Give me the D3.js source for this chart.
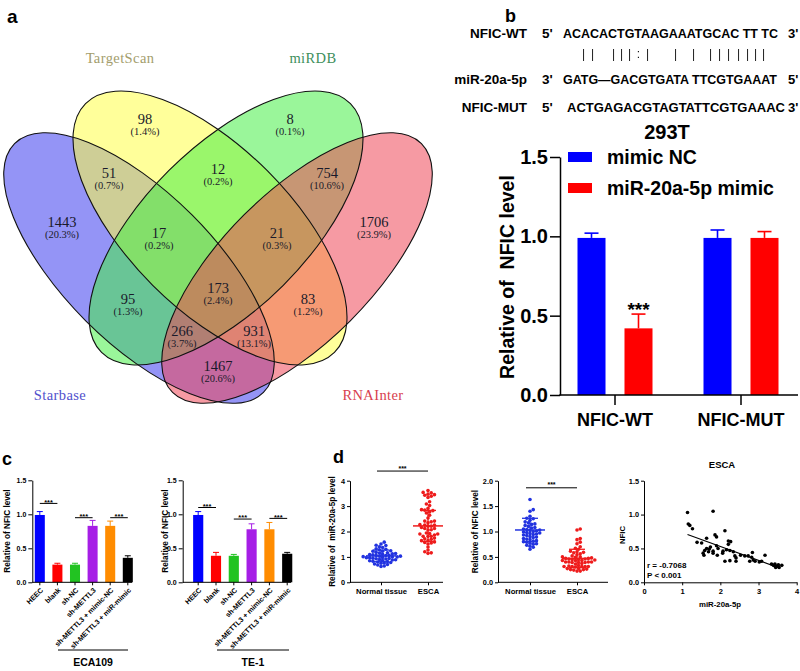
<!DOCTYPE html>
<html><head><meta charset="utf-8">
<script src="https://cdn.jsdelivr.net/npm/d3@7/dist/d3.min.js"></script>
<style>body{margin:0;background:#fff}svg{display:block}</style>
</head><body>
<svg id="fig" width="800" height="671"></svg>
<script>
// ---------------- DATA ----------------
// Panel a (Venn)
const vennSets = ["Starbase", "TargetScan", "miRDB", "RNAInter"];
const vennRegions = ["A", "B", "C", "D", "AB", "BC", "CD", "AC", "BD", "AD", "ABC", "BCD", "ACD", "ABD", "ABCD"];
const vennCounts = [1443, 98, 8, 1706, 51, 12, 754, 95, 83, 1467, 17, 21, 266, 931, 173];
const vennPct = ["20.3%", "1.4%", "0.1%", "23.9%", "0.7%", "0.2%", "10.6%", "1.3%", "1.2%", "20.6%", "0.2%", "0.3%", "3.7%", "13.1%", "2.4%"];

// Panel b
const bCats = ["NFIC-WT", "NFIC-MUT"];
const bSeries = ["mimic NC", "miR-20a-5p mimic"];
const bNC = [0.99, 0.99];
const bNCerr = [0.03, 0.05];
const bMimic = [0.42, 0.99];
const bMimicErr = [0.09, 0.04];
const bTicks = [0, 0.5, 1.0, 1.5];
const seqLabels = ["NFIC-WT", "miR-20a-5p", "NFIC-MUT"];
const seqEnds = [["5'", "3'"], ["3'", "5'"], ["5'", "3'"]];
const seqs = ["ACACACTGTAAGAAATGCAC TT TC", "GATG\u2014GACGTGATA TTCGTGAAAT", "ACTGAGACGTAGTATTCGTGAAAC"];
const pairChars = ["|", "|", "|", "|", "|", ":", "|", "|", "|", "|", "|", "|", "|", "|", "|", "|"];

// Panel c
const cCats = ["HEEC", "blank", "sh-NC", "sh-METTL3", "sh-METTL3 + mimic-NC", "sh-METTL3 + miR-mimic"];
const ecaVals = [0.99, 0.26, 0.26, 0.83, 0.83, 0.36];
const ecaErr = [0.05, 0.02, 0.02, 0.08, 0.07, 0.03];
const teVals = [0.99, 0.39, 0.39, 0.78, 0.78, 0.42];
const teErr = [0.05, 0.05, 0.02, 0.08, 0.10, 0.02];
const cSigPairs = [[0, 1], [2, 3], [4, 5]];
const ecaSigLevel = [1.16, 0.95, 0.95];
const teSigLevel = [1.10, 0.93, 0.94];
const cTicks = [0, 0.5, 1.0, 1.5];

// Panel d
const dGroups = ["Normal tissue", "ESCA"];
const normalMiR = [1.58, 1.51, 1.46, 1.45, 1.40, 1.37, 1.32, 1.30, 1.28, 1.24, 1.22, 1.22, 1.18, 1.16, 1.15, 1.13, 1.12, 1.10, 1.09, 1.08, 1.06, 1.06, 1.05, 1.03, 1.03, 1.01, 1.00, 1.00, 0.98, 0.97, 0.97, 0.95, 0.94, 0.93, 0.92, 0.90, 0.89, 0.88, 0.86, 0.85, 0.83, 0.82, 0.80, 0.78, 0.76, 0.75, 0.72, 0.70, 0.68, 0.64, 0.62];
const normalNFIC = [1.63, 1.43, 1.40, 1.30, 1.26, 1.25, 1.22, 1.19, 1.17, 1.15, 1.14, 1.12, 1.10, 1.08, 1.07, 1.05, 1.04, 1.03, 1.02, 1.01, 1.00, 0.99, 0.98, 0.97, 0.96, 0.95, 0.94, 0.93, 0.92, 0.90, 0.89, 0.88, 0.86, 0.85, 0.84, 0.82, 0.81, 0.80, 0.79, 0.77, 0.76, 0.75, 0.73, 0.71, 0.69, 0.65];
const escaMiR = [1.14, 1.16, 1.20, 1.27, 1.81, 2.12, 1.86, 1.90, 1.64, 1.39, 1.51, 2.21, 2.27, 2.21, 1.64, 1.71, 1.74, 1.59, 1.69, 1.81, 1.90, 1.94, 2.07, 2.06, 1.55, 1.57, 1.81, 1.92, 2.16, 2.25, 2.12, 2.25, 2.34, 2.38, 2.41, 2.41, 2.53, 2.64, 2.73, 2.82, 2.86, 2.84, 2.77, 2.91, 3.02, 3.08, 3.17, 3.34, 3.39, 3.43, 3.47, 3.52, 3.54, 3.45, 3.61];
const escaNFIC = [1.03, 0.86, 0.84, 0.79, 1.05, 0.76, 0.70, 0.67, 0.65, 0.59, 0.58, 0.61, 0.60, 0.56, 0.50, 0.49, 0.52, 0.47, 0.45, 0.46, 0.54, 0.50, 0.46, 0.43, 0.43, 0.40, 0.43, 0.40, 0.48, 0.47, 0.31, 0.32, 0.45, 0.39, 0.36, 0.31, 0.40, 0.39, 0.39, 0.37, 0.33, 0.44, 0.31, 0.31, 0.30, 0.31, 0.40, 0.27, 0.25, 0.27, 0.24, 0.26, 0.22, 0.22, 0.25];
const miRMean = [1.04, 2.22];
const miRSD = [0.23, 0.61];
const nficMean = [1.03, 0.47];
const nficSD = [0.23, 0.18];
const corrText = ["r = -0.7068", "P < 0.001"];

// ---------------- LAYOUT / STYLE ----------------
const SANS = "'Liberation Sans', Arial, Helvetica, sans-serif";
const SERIF = "'Liberation Serif', 'Times New Roman', serif";
const svg = d3.select("#fig");
svg.append("rect").attr("width", 800).attr("height", 671).attr("fill", "#fff");

function txt(g, x, y, s, o = {}) {
  return g.append("text").attr("x", x).attr("y", y).text(s)
    .attr("font-family", o.ff || SANS).attr("font-size", o.fs || 10)
    .attr("font-weight", o.fw || "bold").attr("fill", o.fill || "#000")
    .attr("text-anchor", o.anchor || "start");
}
function styleAxis(sel, fs, sw) {
  sel.selectAll("text").attr("font-family", SANS).attr("font-size", fs).attr("font-weight", "bold").attr("fill", "#000");
  sel.selectAll("path,line").attr("stroke", "#000").attr("stroke-width", sw || 1);
}

// ================= Panel a: Venn =================
const va = svg.append("g");
txt(va, 7, 23, "a", { fs: 19 });
const ell = [
  { cx: 139, cy: 268, rx: 176, ry: 75, rot: 45, fill: "#3a3aee" },
  { cx: 210, cy: 228, rx: 176, ry: 81, rot: 45, fill: "#ffff44" },
  { cx: 226, cy: 228, rx: 176, ry: 81, rot: -45, fill: "#44ee44" },
  { cx: 297, cy: 268, rx: 176, ry: 75, rot: -45, fill: "#ee4455" }
];
va.selectAll("ellipse.f").data(ell).join("ellipse").attr("class", "f")
  .attr("cx", 0).attr("cy", 0).attr("rx", d => d.rx).attr("ry", d => d.ry)
  .attr("transform", d => `translate(${d.cx},${d.cy}) rotate(${d.rot})`)
  .attr("fill", d => d.fill).attr("fill-opacity", 0.54);
va.selectAll("ellipse.s").data(ell).join("ellipse").attr("class", "s")
  .attr("cx", 0).attr("cy", 0).attr("rx", d => d.rx).attr("ry", d => d.ry)
  .attr("transform", d => `translate(${d.cx},${d.cy}) rotate(${d.rot})`)
  .attr("fill", "none").attr("stroke", "#111").attr("stroke-width", 1.1);
const vennLabelPos = {
  A: [62, 222], B: [145, 119], C: [290, 119], D: [374, 222], AB: [109, 173], BC: [218, 169], CD: [327, 173],
  AC: [128, 299], BD: [308, 299], AD: [218, 366], ABC: [159, 233], BCD: [277, 233], ACD: [182, 331], ABD: [254, 331], ABCD: [218, 288]
};
vennRegions.forEach((r, i) => {
  const [x, y] = vennLabelPos[r];
  txt(va, x, y + 5, vennCounts[i], { ff: SERIF, fs: 14.5, fw: "normal", fill: "#1a1a2a", anchor: "middle" });
  txt(va, x, y + 16, "(" + vennPct[i] + ")", { ff: SERIF, fs: 10.5, fw: "normal", fill: "#1a1a2a", anchor: "middle" });
});
const setLabelPos = [[60, 400, "#5050cc"], [120, 63, "#a39d6c"], [313, 63, "#3e8f5c"], [373, 400, "#d8404e"]];
vennSets.forEach((s, i) => {
  const [x, y, c] = setLabelPos[i];
  txt(va, x, y, s, { ff: SERIF, fs: 14.5, fw: "normal", fill: c, anchor: "middle" }).attr("letter-spacing", 0.4);
});

// ================= Panel b =================
const vb = svg.append("g");
txt(vb, 505, 22, "b", { fs: 18 });
const seqRowsY = [38, 84, 112];
const seqX0 = [563, 563, 567];
const seqW = [215, 214, 218];
seqLabels.forEach((l, i) => {
  txt(vb, 527, seqRowsY[i], l, { fs: 13.5, anchor: "end" });
  txt(vb, 542, seqRowsY[i], seqEnds[i][0], { fs: 13.5 });
  txt(vb, seqX0[i], seqRowsY[i], seqs[i], { fs: 12.6 }).attr("textLength", seqW[i]).attr("lengthAdjust", "spacingAndGlyphs");
  txt(vb, 788, seqRowsY[i], seqEnds[i][1], { fs: 13 });
});
const pairX = [583, 592, 613, 621, 629, 638, 647, 675, 693, 710, 719, 728, 738, 747, 755, 763];
const pairG = vb.append("g").style("opacity", 0.99).style("will-change", "transform");
pairChars.forEach((c, i) => txt(pairG, Math.round(pairX[i]) + 0.5, 57.5, c, { fs: 12, fw: "normal", fill: "#111", anchor: "middle" }));

const xb = d3.scaleBand().domain(bCats).range([552, 804]).padding(0);
const xbSub = d3.scaleBand().domain(bSeries).range([-37.5, 37.5]).paddingInner(0.404).paddingOuter(0);
const yb = d3.scaleLinear().domain([0, 1.5]).range([395, 157]);
const bColors = ["#0000ff", "#ff0000"];
const bData = bCats.map((c, i) => [
  { cat: c, s: bSeries[0], v: bNC[i], e: bNCerr[i], col: bColors[0] },
  { cat: c, s: bSeries[1], v: bMimic[i], e: bMimicErr[i], col: bColors[1] }
]).flat();
const bx = d => xb(d.cat) + xb.bandwidth() / 2 + xbSub(d.s);
vb.selectAll("line.be").data(bData).join("line").attr("class", "be")
  .attr("x1", d => bx(d) + xbSub.bandwidth() / 2).attr("x2", d => bx(d) + xbSub.bandwidth() / 2)
  .attr("y1", d => yb(d.v)).attr("y2", d => yb(d.v + d.e)).attr("stroke", d => d.col).attr("stroke-width", 1.6);
vb.selectAll("line.bc").data(bData).join("line").attr("class", "bc")
  .attr("x1", d => bx(d) + xbSub.bandwidth() / 2 - 7).attr("x2", d => bx(d) + xbSub.bandwidth() / 2 + 7)
  .attr("y1", d => yb(d.v + d.e)).attr("y2", d => yb(d.v + d.e)).attr("stroke", d => d.col).attr("stroke-width", 1.6);
vb.selectAll("rect.bar").data(bData).join("rect").attr("class", "bar")
  .attr("x", bx).attr("width", xbSub.bandwidth())
  .attr("y", d => yb(d.v)).attr("height", d => yb(0) - yb(d.v)).attr("fill", d => d.col);
const ybAxis = vb.append("g").attr("transform", "translate(560,0)")
  .call(d3.axisLeft(yb).tickValues(bTicks).tickSize(10).tickSizeOuter(0).tickPadding(2).tickFormat(d3.format(".1f")));
styleAxis(ybAxis, 20, 1.5);
const xbAxis = vb.append("g").attr("transform", "translate(0,395)")
  .call(d3.axisBottom(xb).tickSize(10).tickSizeOuter(0).tickPadding(8));
xbAxis.select(".domain").remove();
styleAxis(xbAxis, 18, 1.5);
vb.append("line").attr("x1", 559.3).attr("x2", 798).attr("y1", 395).attr("y2", 395).attr("stroke", "#000").attr("stroke-width", 1.5);
txt(vb, 507, 277, "Relative of  NFIC level", { fs: 19.5, anchor: "middle" })
  .attr("transform", "rotate(-90,507,277)").attr("dy", "0.35em").style("white-space", "pre");
txt(vb, 667, 139, "293T", { fs: 20, anchor: "middle" });
const wtMimic = bData[1];
txt(vb, bx(wtMimic) + xbSub.bandwidth() / 2, yb(wtMimic.v + wtMimic.e) + 2, "***", { fs: 19, anchor: "middle" });
bSeries.forEach((s, i) => {
  vb.append("rect").attr("x", 568).attr("y", 152 + i * 31).attr("width", 24).attr("height", 10).attr("fill", bColors[i]);
  txt(vb, 607, 164 + i * 31, s, { fs: 19.5 });
});

// ================= Panel c =================
const vc = svg.append("g");
txt(vc, 2, 465, "c", { fs: 18 });
const cColors = ["#0000ff", "#ff0000", "#22c322", "#a61ee6", "#ff8c00", "#000000"];
const yc = d3.scaleLinear().domain([0, 1.5]).range([582.3, 480.3]);
function barPanel(o) {
  const g = vc.append("g");
  const x = d3.scaleBand().domain(cCats).range(o.xr).paddingInner(0.43).paddingOuter(0.215);
  const cx = c => x(c) + x.bandwidth() / 2;
  const data = cCats.map((c, i) => ({ c, v: o.vals[i], e: o.err[i], col: cColors[i] }));
  g.selectAll("line.e").data(data).join("line").attr("x1", d => cx(d.c)).attr("x2", d => cx(d.c))
    .attr("y1", d => yc(d.v)).attr("y2", d => yc(d.v + d.e)).attr("stroke", d => d.col).attr("stroke-width", 1);
  g.selectAll("line.cap").data(data).join("line").attr("x1", d => cx(d.c) - 3).attr("x2", d => cx(d.c) + 3)
    .attr("y1", d => yc(d.v + d.e)).attr("y2", d => yc(d.v + d.e)).attr("stroke", d => d.col).attr("stroke-width", 1);
  g.selectAll("rect").data(data).join("rect").attr("x", d => x(d.c)).attr("width", x.bandwidth())
    .attr("y", d => yc(d.v)).attr("height", d => yc(0) - yc(d.v)).attr("fill", d => d.col);
  const ya = g.append("g").attr("transform", `translate(${o.ax},0)`)
    .call(d3.axisLeft(yc).tickValues(cTicks).tickSize(4).tickSizeOuter(0).tickPadding(2).tickFormat(d3.format(".1f")));
  styleAxis(ya, 7, 1);
  const xa = g.append("g").attr("transform", "translate(0,582.3)")
    .call(d3.axisBottom(x).tickSize(3).tickSizeOuter(0).tickFormat(""));
  xa.select(".domain").remove();
  styleAxis(xa, 7, 1);
  g.append("line").attr("x1", o.ax).attr("x2", o.axEnd).attr("y1", 582.3).attr("y2", 582.3).attr("stroke", "#000");
  cCats.forEach(c => {
    txt(g, cx(c) + 2, 589, c, { fs: 7.1, anchor: "end" }).attr("dy", "0.35em")
      .attr("transform", `rotate(-45,${cx(c) + 2},589)`);
  });
  txt(g, o.titleX, 531, "Relative of NFIC level", { fs: 8.2, anchor: "middle" })
    .attr("transform", `rotate(-90,${o.titleX},531)`).attr("dy", "0.35em");
  cSigPairs.forEach((p, k) => {
    const x1 = cx(cCats[p[0]]), x2 = cx(cCats[p[1]]), yy = yc(o.sig[k]);
    g.append("line").attr("x1", x1).attr("x2", x2).attr("y1", yy).attr("y2", yy).attr("stroke", "#000").attr("stroke-width", 1);
    txt(g, (x1 + x2) / 2, yy + 1.2, "***", { fs: 7.5, anchor: "middle" });
  });
  g.append("line").attr("x1", o.grp[0]).attr("x2", o.grp[1]).attr("y1", 650).attr("y2", 650).attr("stroke", "#000");
  txt(g, (o.grp[0] + o.grp[1]) / 2, 665.5, o.name, { fs: 10.5, anchor: "middle" });
}
barPanel({ xr: [31, 136.6], ax: 32.3, axEnd: 132, vals: ecaVals, err: ecaErr, sig: ecaSigLevel, titleX: 7, grp: [58, 128], name: "ECA109" });
barPanel({ xr: [189.3, 296.1], ax: 182.7, axEnd: 291, vals: teVals, err: teErr, sig: teSigLevel, titleX: 165, grp: [217, 289], name: "TE-1" });

// ================= Panel d =================
const vd = svg.append("g");
txt(vd, 333, 463, "d", { fs: 18 });
const dColors = ["#2233e0", "#ee1c1c"];
function swarm(values, y, cx, r) {
  const placed = [];
  const res = new Array(values.length);
  const order = values.map((v, i) => i).sort((a, b) => values[a] - values[b]);
  for (const i of order) {
    const py = y(values[i]);
    let k = 0, px = cx;
    while (k < 60) {
      const off = (k === 0 ? 0 : (k % 2 ? 1 : -1) * Math.ceil(k / 2)) * r * 0.9;
      px = cx + off;
      if (placed.every(p => (p[0] - px) ** 2 + (p[1] - py) ** 2 >= (1.6 * r) ** 2)) break;
      k++;
    }
    placed.push([px, py]);
    res[i] = [px, py];
  }
  return res;
}
function dotPanel(o) {
  const g = vd.append("g");
  const y = d3.scaleLinear().domain([0, o.max]).range([582.3, 480.7]);
  const x = d3.scalePoint().domain(dGroups).range(o.xr);
  o.series.forEach((vals, gi) => {
    const pts = swarm(vals, y, x(dGroups[gi]), 1.8);
    g.selectAll(null).data(pts).join("circle").attr("cx", d => d[0]).attr("cy", d => d[1]).attr("r", 1.8)
      .attr("fill", dColors[gi]);
    const cx = x(dGroups[gi]), m = o.mean[gi], s = o.sd[gi];
    g.append("line").attr("x1", cx - 15).attr("x2", cx + 15).attr("y1", y(m)).attr("y2", y(m)).attr("stroke", dColors[gi]).attr("stroke-width", 1.5);
    [m - s, m + s].forEach(v => g.append("line").attr("x1", cx - 8).attr("x2", cx + 8).attr("y1", y(v)).attr("y2", y(v)).attr("stroke", dColors[gi]).attr("stroke-width", 1.3));
    g.append("line").attr("x1", cx).attr("x2", cx).attr("y1", y(m - s)).attr("y2", y(m + s)).attr("stroke", dColors[gi]).attr("stroke-width", 1.3);
  });
  const ya = g.append("g").attr("transform", `translate(${o.ax},0)`)
    .call(d3.axisLeft(y).tickValues(o.ticks).tickSize(3).tickSizeOuter(0).tickPadding(2).tickFormat(o.fmt));
  styleAxis(ya, 7.3, 1);
  const xa = g.append("g").attr("transform", "translate(0,582.3)")
    .call(d3.axisBottom(x).tickSize(3).tickSizeOuter(0).tickPadding(3));
  xa.select(".domain").remove();
  styleAxis(xa, 7.7, 1);
  g.append("line").attr("x1", o.ax).attr("x2", o.axEnd).attr("y1", 582.3).attr("y2", 582.3).attr("stroke", "#000");
  txt(g, o.titleX, 531.5, o.title, { fs: 8.2, anchor: "middle" })
    .attr("transform", `rotate(-90,${o.titleX},531.5)`).attr("dy", "0.35em").style("white-space", "pre");
  const sx1 = x(dGroups[0]) - 4, sx2 = x(dGroups[1]), sy = y(o.sig);
  g.append("line").attr("x1", sx1).attr("x2", sx2).attr("y1", sy).attr("y2", sy).attr("stroke", "#000");
  txt(g, (sx1 + sx2) / 2, sy - 0.5, "***", { fs: 7, anchor: "middle" });
}
dotPanel({ max: 4, xr: [381, 428], ax: 350, axEnd: 443, series: [normalMiR, escaMiR], mean: miRMean, sd: miRSD,
  ticks: [0, 1, 2, 3, 4], fmt: d3.format("d"), titleX: 332, title: "Relative of  miR-20a-5p level", sig: 4.38 });
dotPanel({ max: 2, xr: [530, 577], ax: 498, axEnd: 608, series: [normalNFIC, escaNFIC], mean: nficMean, sd: nficSD,
  ticks: [0, 0.5, 1, 1.5, 2], fmt: d3.format(".1f"), titleX: 475, title: "Relative of NFIC level", sig: 1.86 });

// scatter
const gs = vd.append("g");
const xs = d3.scaleLinear().domain([0, 4]).range([644, 796.7]);
const ys = d3.scaleLinear().domain([0, 1.5]).range([582.3, 480.7]);
gs.selectAll("circle").data(escaMiR.map((v, i) => [v, escaNFIC[i]])).join("circle")
  .attr("cx", d => xs(d[0])).attr("cy", d => ys(d[1])).attr("r", 1.8).attr("fill", "#000");
const mx = d3.mean(escaMiR), my = d3.mean(escaNFIC);
const slope = d3.sum(escaMiR, (v, i) => (v - mx) * (escaNFIC[i] - my)) / d3.sum(escaMiR, v => (v - mx) ** 2);
const [ex0, ex1] = d3.extent(escaMiR);
gs.append("line").attr("x1", xs(ex0)).attr("x2", xs(ex1 - 0.05))
  .attr("y1", ys(my + slope * (ex0 - mx))).attr("y2", ys(my + slope * (ex1 - 0.05 - mx)))
  .attr("stroke", "#000").attr("stroke-width", 1.1);
const ysa = gs.append("g").attr("transform", "translate(644,0)")
  .call(d3.axisLeft(ys).tickValues([0, 0.5, 1, 1.5]).tickSize(3).tickSizeOuter(0).tickPadding(2).tickFormat(d3.format(".1f")));
styleAxis(ysa, 7.3, 1);
const xsa = gs.append("g").attr("transform", "translate(0,582.3)")
  .call(d3.axisBottom(xs).tickValues([0, 1, 2, 3, 4]).tickSize(3).tickSizeOuter(0).tickPadding(3).tickFormat(d3.format("d")));
styleAxis(xsa, 7.5, 1);
txt(gs, 720, 607, "miR-20a-5p", { fs: 7.8, anchor: "middle" });
txt(gs, 622, 535, "NFIC", { fs: 7.8, anchor: "middle" }).attr("transform", "rotate(-90,622,535)").attr("dy", "0.35em");
txt(gs, 722, 468, "ESCA", { fs: 9.5, anchor: "middle" });
txt(gs, 647, 568, corrText[0], { fs: 8 });
txt(gs, 647, 577.5, corrText[1], { fs: 8 });
</script>
</body></html>
